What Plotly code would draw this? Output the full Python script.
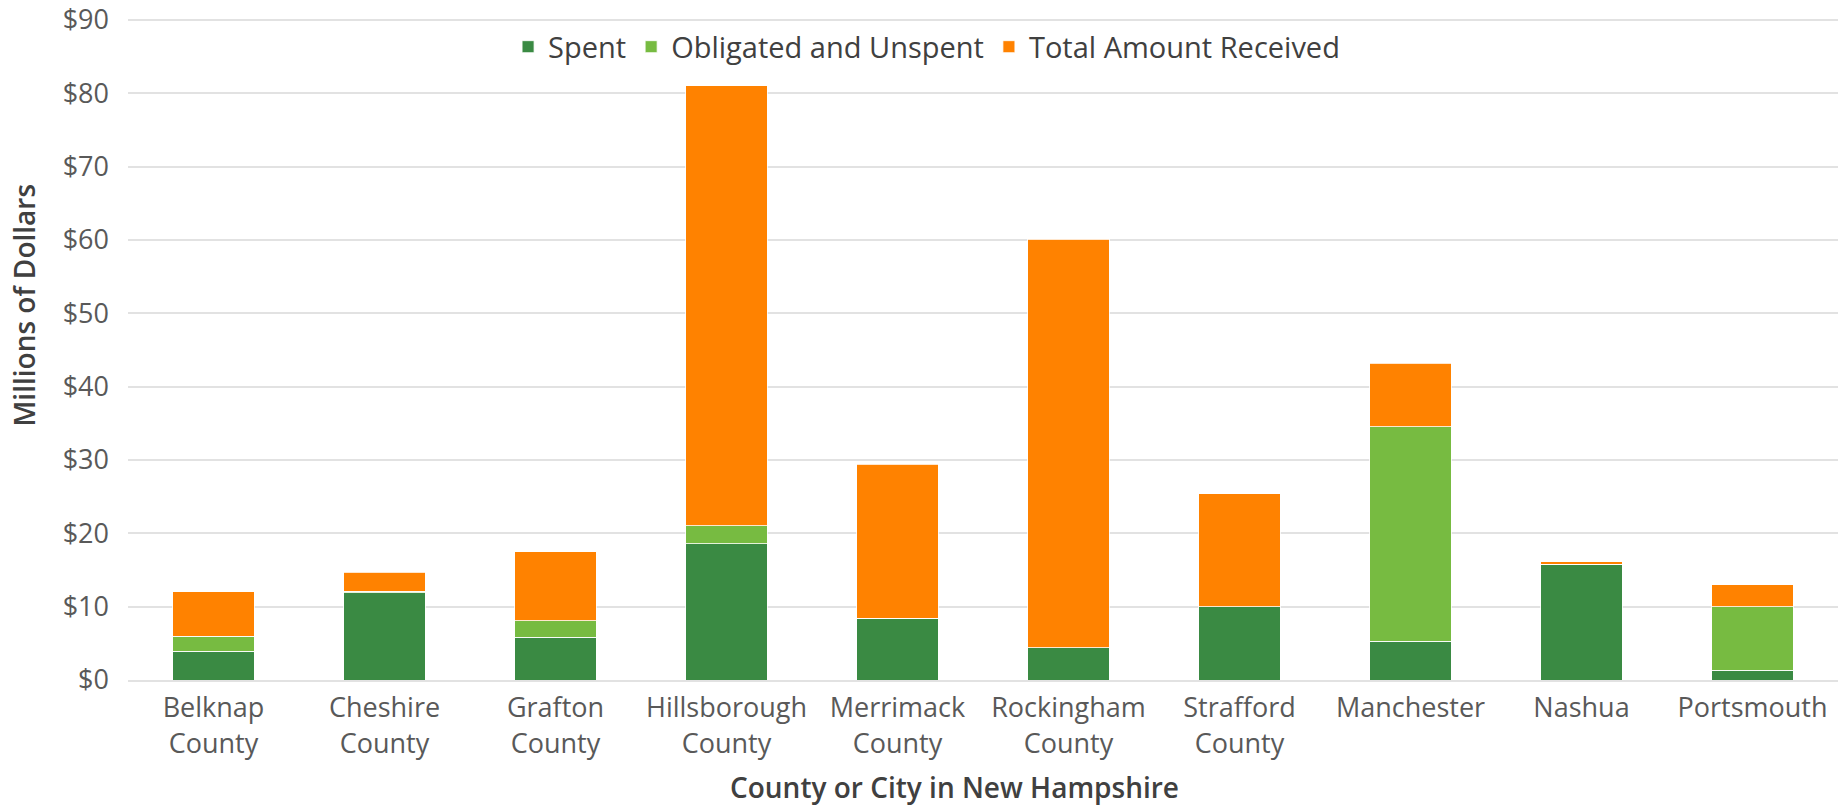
import plotly.graph_objects as go

places = ["Belknap<br>County", "Cheshire<br>County", "Grafton<br>County", "Hillsborough<br>County",
          "Merrimack<br>County", "Rockingham<br>County", "Strafford<br>County",
          "Manchester", "Nashua", "Portsmouth"]
spent = [3.9, 11.9, 5.8, 18.6, 8.4, 4.4, 10.0, 5.3, 15.8, 1.3]
obligated = [2.1, 0.2, 2.3, 2.4, 0.0, 0.0, 0.0, 29.2, 0.0, 8.7]
remaining = [6.0, 2.6, 9.4, 60.0, 21.0, 55.7, 15.4, 8.7, 0.3, 3.0]

y_ticks = [0, 10, 20, 30, 40, 50, 60, 70, 80, 90]
y_labels = ["$0", "$10", "$20", "$30", "$40", "$50", "$60", "$70", "$80", "$90"]

fig = go.Figure()
fig.add_trace(go.Bar(x=places, y=spent, name="Spent", marker_color="#3a8a43"))
fig.add_trace(go.Bar(x=places, y=obligated, name="Obligated and Unspent", marker_color="#77bb41"))
fig.add_trace(go.Bar(x=places, y=remaining, name="Total Amount Received", marker_color="#ff8200"))

fig.update_traces(marker_line_color="white", marker_line_width=0.8)

fig.update_layout(
    barmode="stack",
    bargap=0.525,
    width=1843, height=807,
    margin=dict(l=128, r=5, t=17, b=127, autoexpand=False),
    plot_bgcolor="white",
    paper_bgcolor="white",
    font=dict(family="Open Sans", size=27, color="#595959"),
    legend=dict(orientation="h", x=0.467, xanchor="center", y=0.955, yanchor="middle",
                font=dict(size=29, color="#404040"), traceorder="normal",
                bgcolor="rgba(0,0,0,0)"),
)
# range goes a touch past 90 so the $90 gridline is drawn
fig.update_yaxes(
    range=[0, 90.4], tickmode="array", tickvals=y_ticks, ticktext=y_labels,
    gridcolor="#e2e2e2", gridwidth=2, zeroline=False,
    ticks="", ticklabelstandoff=18, automargin=False,
)
fig.update_xaxes(
    showline=True, linecolor="#e2e2e2", linewidth=2,
    ticklabelstandoff=3, automargin=False,
)

fig.add_annotation(text="Millions of Dollars", textangle=-90, xref="paper", yref="paper",
                   x=-0.0608, y=0.565, xanchor="center", yanchor="middle", showarrow=False,
                   font=dict(size=28, color="#404040", weight=600))
fig.add_annotation(text="County or City in New Hampshire", xref="paper", yref="paper",
                   x=0.4836, y=-0.161, xanchor="center", yanchor="middle", showarrow=False,
                   font=dict(size=28, color="#404040", weight=600))

# drop the default 8px body margin so the figure fills the window exactly
fig.write_html("out.html", config={"displayModeBar": False},
               post_script="document.body.style.margin='0px';")
